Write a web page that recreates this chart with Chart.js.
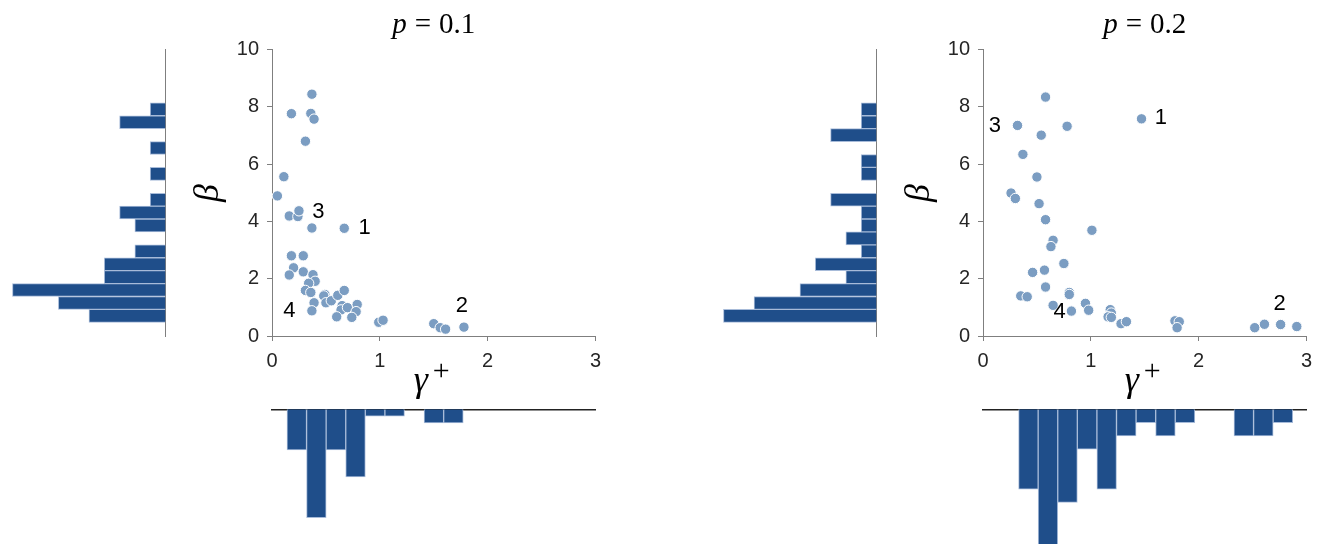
<!DOCTYPE html>
<html>
<head>
<meta charset="utf-8">
<script src="https://cdn.jsdelivr.net/npm/chart.js@4"></script>
<style>
  body { margin: 0; background: #fff; }
  #wrap { position: relative; width: 1328px; height: 544px; overflow: hidden; }
  canvas { position: absolute; }
</style>
</head>
<body>
<div id="wrap">
  <canvas id="leftBetaHist" width="170" height="420" style="left:0px;top:0px"></canvas>
  <canvas id="leftScatter" width="420" height="410" style="left:190px;top:0px"></canvas>
  <canvas id="leftGammaHist" width="420" height="144" style="left:190px;top:400px"></canvas>
  <canvas id="rightBetaHist" width="170" height="420" style="left:711px;top:0px"></canvas>
  <canvas id="rightScatter" width="420" height="410" style="left:901px;top:0px"></canvas>
  <canvas id="rightGammaHist" width="420" height="144" style="left:901px;top:400px"></canvas>
</div>
<script>
// p = 0.1
var leftGamma = [0.37, 0.18, 0.36, 0.39, 0.31, 0.11, 0.05, 0.16, 0.24, 0.25, 0.37, 0.67, 0.18, 0.29, 0.20,
  0.16, 0.29, 0.38, 0.40, 0.34, 0.31, 0.36, 0.49, 0.48, 0.50, 0.55, 0.61, 0.67, 0.65, 0.64,
  0.70, 0.79, 0.78, 0.74, 0.60, 0.39, 0.37, 0.99, 1.03, 1.50, 1.56, 1.61, 1.78];
var leftBeta = [8.44, 7.76, 7.77, 7.57, 6.80, 5.56, 4.89, 4.19, 4.17, 4.37, 3.77, 3.76, 2.80, 2.80, 2.38,
  2.13, 2.24, 2.14, 1.91, 1.84, 1.59, 1.52, 1.45, 1.40, 1.16, 1.23, 1.42, 1.59, 1.06, 0.91,
  0.99, 1.10, 0.85, 0.65, 0.67, 1.16, 0.88, 0.48, 0.55, 0.43, 0.29, 0.24, 0.31];
var leftMarkText = ['1', '2', '3', '4'];
var leftMarkGamma = [0.86, 1.76, 0.43, 0.16];
var leftMarkBeta = [3.77, 1.05, 4.33, 0.87];
var leftBetaCounts = [5, 7, 10, 4, 4, 2, 0, 2, 3, 1, 0, 1, 0, 1, 0, 3, 1]; // bottom -> top
var leftGammaCounts = [6, 16, 6, 10, 1, 1, 0, 2, 2];
var leftGammaBinStart = 0.139;

// p = 0.2
var rightGamma = [0.58, 0.32, 0.78, 1.47, 0.54, 0.37, 0.50, 0.26, 0.30, 0.52, 0.58, 1.01, 0.65, 0.63, 0.75,
  0.46, 0.57, 0.58, 0.80, 0.80, 0.35, 0.41, 0.65, 0.82, 0.95, 0.98, 1.18, 1.19, 1.16, 1.19,
  1.28, 1.33, 1.78, 1.82, 1.80, 2.52, 2.61, 2.76, 2.91];
var rightBeta = [8.34, 7.35, 7.32, 7.58, 7.01, 6.34, 5.55, 4.99, 4.80, 4.62, 4.06, 3.69, 3.34, 3.12, 2.53,
  2.22, 2.30, 1.71, 1.52, 1.45, 1.40, 1.37, 1.07, 0.87, 1.14, 0.90, 0.92, 0.80, 0.67, 0.65,
  0.43, 0.50, 0.53, 0.50, 0.29, 0.29, 0.41, 0.40, 0.33];
var rightMarkText = ['1', '2', '3', '4'];
var rightMarkGamma = [1.65, 2.75, 0.11, 0.71];
var rightMarkBeta = [7.60, 1.12, 7.32, 0.84];
var rightBetaCounts = [10, 8, 5, 2, 4, 1, 2, 1, 1, 3, 0, 1, 1, 0, 3, 1, 1]; // bottom -> top
var rightGammaCounts = [6, 11, 7, 3, 6, 2, 1, 2, 1, 0, 0, 2, 2, 1];
var rightGammaBinStart = 0.33;

// shared bins
var betaBinStart = 0.478;
var betaBinWidth = 0.4506;
var gammaBinWidth = 0.1816;

var pointColor = '#7b9dc2';
var barColor = '#1f4e8a';
var barEdge = '#a7bbd9';
var axisColor = '#7f7f7f';
var tickFont = { family: "'Liberation Sans', Arial, sans-serif", size: 20 };
var serif = "'Liberation Serif', 'DejaVu Serif', serif";

// titles, axis symbols and the numbered point labels
const textPlugin = {
  id: 'texts',
  afterDraw(chart, args, opts) {
    const ctx = chart.ctx;
    const a = chart.chartArea;
    const cx = (a.left + a.right) / 2;
    ctx.save();
    ctx.fillStyle = '#000';

    // title  p = 0.x
    ctx.textBaseline = 'alphabetic';
    ctx.textAlign = 'left';
    const fIt = 'italic 29px ' + serif;
    const fUp = '29px ' + serif;
    ctx.font = fIt; const wp = ctx.measureText('p').width;
    ctx.font = fUp; const we = ctx.measureText('=').width; const wn = ctx.measureText(opts.title).width;
    const gap = 8;
    let tx = cx - (wp + gap + we + gap + wn) / 2;
    ctx.font = fIt; ctx.fillText('p', tx, 33); tx += wp + gap;
    ctx.font = fUp; ctx.fillText('=', tx, 33); tx += we + gap;
    ctx.fillText(opts.title, tx, 33);

    // beta
    ctx.save();
    ctx.translate(a.left - 63, 193);
    ctx.rotate(-Math.PI / 2);
    ctx.font = 'italic 36px ' + serif;
    ctx.textAlign = 'center';
    ctx.textBaseline = 'middle';
    ctx.fillText('β', 0, 0);
    ctx.restore();

    // gamma+
    ctx.font = 'italic 36px ' + serif;
    ctx.textAlign = 'center';
    ctx.fillText('γ', cx - 13, 391);
    ctx.font = '30px ' + serif;
    ctx.textAlign = 'left';
    ctx.fillText('+', cx - 1, 380);

    // numbered labels
    const xs = chart.scales.x, ys = chart.scales.y;
    ctx.font = '22px ' + tickFont.family;
    ctx.textAlign = 'center';
    ctx.textBaseline = 'middle';
    opts.marks.forEach((m, i) => {
      ctx.fillText(m, xs.getPixelForValue(opts.mx[i]), ys.getPixelForValue(opts.my[i]));
    });
    ctx.restore();
  }
};

function scatter(id, gx, by, title, marks, mx, my) {
  const pts = gx.map((g, i) => ({ x: g, y: by[i] }));
  return new Chart(document.getElementById(id), {
    type: 'scatter',
    data: { datasets: [{ data: pts, backgroundColor: pointColor, borderColor: '#ffffff', borderWidth: 1, pointRadius: 5.2, clip: false }] },
    options: {
      responsive: false,
      animation: false,
      layout: { padding: { top: 49.5, right: 14.5, left: 0, bottom: 0 } },
      plugins: {
        legend: { display: false },
        tooltip: { enabled: false },
        texts: { title: title, marks: marks, mx: mx, my: my }
      },
      scales: {
        x: {
          type: 'linear', min: 0, max: 3,
          ticks: { stepSize: 1, font: tickFont, color: '#262626', padding: 8, maxRotation: 0 },
          grid: { drawOnChartArea: false, tickLength: 5, color: axisColor },
          border: { color: axisColor },
          afterFit(s) { s.height = 74; }
        },
        y: {
          type: 'linear', min: 0, max: 10,
          ticks: { stepSize: 2, font: tickFont, color: '#262626', padding: 8 },
          grid: { drawOnChartArea: false, tickLength: 5, color: axisColor },
          border: { color: axisColor },
          afterFit(s) { s.width = 82; }
        }
      }
    },
    plugins: [textPlugin]
  });
}

function betaHist(id, counts) {
  const bars = counts.map((c, i) => ({ x: c, y: betaBinStart + (i + 0.5) * betaBinWidth }));
  return new Chart(document.getElementById(id), {
    type: 'bar',
    data: { datasets: [{ data: bars, backgroundColor: barColor, borderColor: barEdge, borderWidth: 1, borderSkipped: 'start', barPercentage: 1, categoryPercentage: 1 }] },
    options: {
      indexAxis: 'y',
      responsive: false,
      animation: false,
      layout: { padding: { top: 49.5, right: 4.5, left: 4.8, bottom: 84 } },
      plugins: { legend: { display: false }, tooltip: { enabled: false } },
      scales: {
        x: { type: 'linear', min: 0, max: 10.5, reverse: true, display: false },
        y: {
          type: 'linear', position: 'right', min: 0, max: 10, offset: false,
          ticks: { display: false }, grid: { display: false, offset: false },
          border: { display: true, color: axisColor },
          afterFit(s) { s.width = 0; }
        }
      }
    }
  });
}

function gammaHist(id, counts, start, ymax) {
  const bars = counts.map((c, i) => ({ x: start + (i + 0.5) * gammaBinWidth, y: c }));
  return new Chart(document.getElementById(id), {
    type: 'bar',
    data: { datasets: [{ data: bars, backgroundColor: barColor, borderColor: barEdge, borderWidth: 1, borderSkipped: 'start', barPercentage: 1, categoryPercentage: 1 }] },
    options: {
      responsive: false,
      animation: false,
      layout: { padding: { top: 9.3, right: 14.5, left: 82, bottom: 0 } },
      plugins: { legend: { display: false }, tooltip: { enabled: false } },
      scales: {
        x: {
          type: 'linear', position: 'top', min: 0, max: 3, offset: false,
          ticks: { display: false }, grid: { display: false, offset: false },
          border: { display: true, color: '#222222', width: 1.5 },
          afterFit(s) { s.height = 0; }
        },
        y: { type: 'linear', min: 0, max: ymax, reverse: true, display: false }
      }
    }
  });
}

betaHist('leftBetaHist', leftBetaCounts);
scatter('leftScatter', leftGamma, leftBeta, '0.1', leftMarkText, leftMarkGamma, leftMarkBeta);
gammaHist('leftGammaHist', leftGammaCounts, leftGammaBinStart, 19.9);
betaHist('rightBetaHist', rightBetaCounts);
scatter('rightScatter', rightGamma, rightBeta, '0.2', rightMarkText, rightMarkGamma, rightMarkBeta);
gammaHist('rightGammaHist', rightGammaCounts, rightGammaBinStart, 10.13);
</script>
</body>
</html>
